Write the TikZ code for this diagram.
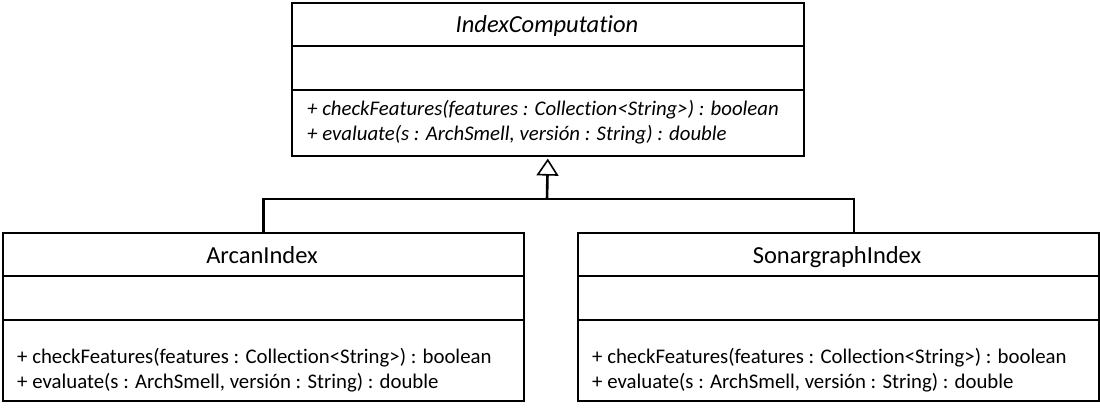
\documentclass[tikz,border=0pt]{standalone}
\usepackage{fontspec}
\setmainfont{Carlito}[Ligatures=NoCommon]
\usetikzlibrary{arrows.meta}
\begin{document}
\begin{tikzpicture}[x=1pt,y=-1pt,
        classbox/.style={draw, line width=1.6pt, inner sep=0pt, anchor=north west},
        classname/.style={anchor=base, inner sep=0pt, font=\fontsize{24.5}{29}\selectfont},
        member/.style={anchor=west, inner sep=0pt, font=\fontsize{20.8}{25}\selectfont},
        inherit/.style={line width=2.6pt}]
        \useasboundingbox (0,0) rectangle (1100,408);
        % IndexComputation
        \node[classbox, minimum width=512pt, minimum height=153pt] (index) at (291,2) {};
        \draw[line width=1.6pt] ([yshift=-44pt]index.north west) -- ([yshift=-44pt]index.north east)
                ([yshift=-88pt]index.north west) -- ([yshift=-88pt]index.north east);
        \node[classname] (indexname) at (547,32) {\itshape IndexComputation};
        \node[member] (indexm1) at (307,110) {\itshape + checkFeatures(features : Collection<String>) : boolean};
        \node[member] (indexm2) at (307,135) {\itshape + evaluate(s : ArchSmell, versión : String) : double};
        % ArcanIndex
        \node[classbox, minimum width=521pt, minimum height=168pt] (arcan) at (2,232) {};
        \draw[line width=1.6pt] ([yshift=-44pt]arcan.north west) -- ([yshift=-44pt]arcan.north east)
                ([yshift=-88pt]arcan.north west) -- ([yshift=-88pt]arcan.north east);
        \node[classname] (arcanname) at (262,263) {ArcanIndex};
        \node[member] (arcanm1) at (17,358) {+ checkFeatures(features : Collection<String>) : boolean};
        \node[member] (arcanm2) at (17,383) {+ evaluate(s : ArchSmell, versión : String) : double};
        % SonargraphIndex
        \node[classbox, minimum width=521pt, minimum height=168pt] (sonar) at (577,232) {};
        \draw[line width=1.6pt] ([yshift=-44pt]sonar.north west) -- ([yshift=-44pt]sonar.north east)
                ([yshift=-88pt]sonar.north west) -- ([yshift=-88pt]sonar.north east);
        \node[classname] (sonarname) at (837,263) {SonargraphIndex};
        \node[member] (sonarm1) at (592,358) {+ checkFeatures(features : Collection<String>) : boolean};
        \node[member] (sonarm2) at (592,383) {+ evaluate(s : ArchSmell, versión : String) : double};
        % generalisation
        \coordinate (join) at (547,199);
        \draw[inherit] (arcan.north) |- (join) -| ([xshift=15.5pt]sonar.north);
        \draw[inherit, -{Triangle[open, length=17pt, width=22pt, line width=1.6pt]}] (join) -- ([yshift=-2pt]index.south);
\end{tikzpicture}
\end{document}
